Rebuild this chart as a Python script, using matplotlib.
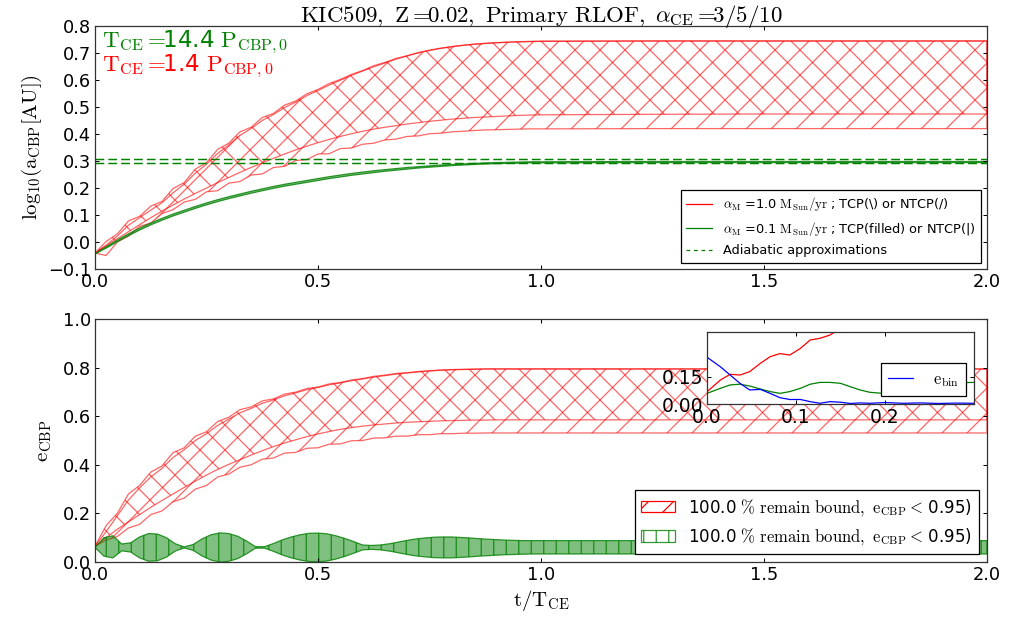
import matplotlib
matplotlib.use("Agg")
import matplotlib.pyplot as plt
from matplotlib.patches import Patch
from matplotlib.lines import Line2D

plt.rcParams['font.family'] = ['DejaVu Sans']
plt.rcParams['mathtext.fontset'] = 'cm'
plt.rcParams['hatch.linewidth'] = 0.6

# time grid for the a / e curves (t / T_CE)
t = [0.0, 0.025, 0.05, 0.075, 0.1, 0.125, 0.15, 0.175, 0.2, 0.225, 0.25, 0.275, 0.3,
     0.325, 0.35, 0.375, 0.4, 0.425, 0.45, 0.475, 0.5, 0.525, 0.55, 0.575, 0.6, 0.625,
     0.65, 0.675, 0.7, 0.725, 0.75, 0.775, 0.8, 0.825, 0.85, 0.875, 0.9, 0.925, 0.95,
     0.975, 1.0, 1.25, 1.5, 1.75, 2.0]

# log10(a_CBP) for alpha_M = 1.0 (red)
a_tcp_hi = [-0.041, 0.002, 0.03, 0.078, 0.095, 0.133, 0.15, 0.198, 0.22, 0.27, 0.294, 0.343,
            0.366, 0.408, 0.425, 0.461, 0.476, 0.507, 0.522, 0.549, 0.565, 0.587, 0.602, 0.621,
            0.635, 0.653, 0.665, 0.68, 0.69, 0.702, 0.711, 0.718, 0.724, 0.729, 0.733, 0.736,
            0.738, 0.74, 0.742, 0.743, 0.744, 0.745, 0.745, 0.745, 0.745]
a_ntcp_hi = [-0.041, -0.012, 0.022, 0.062, 0.09, 0.118, 0.145, 0.182, 0.214, 0.255, 0.288, 0.328,
             0.36, 0.395, 0.42, 0.45, 0.472, 0.498, 0.518, 0.542, 0.561, 0.581, 0.599, 0.617,
             0.633, 0.649, 0.663, 0.677, 0.689, 0.7, 0.709, 0.717, 0.723, 0.728, 0.732, 0.735,
             0.738, 0.74, 0.741, 0.742, 0.743, 0.744, 0.744, 0.744, 0.744]
a_tcp_lo = [-0.041, -0.015, 0.012, 0.038, 0.064, 0.09, 0.114, 0.137, 0.159, 0.18, 0.2, 0.22,
            0.239, 0.258, 0.276, 0.293, 0.31, 0.326, 0.341, 0.355, 0.368, 0.38, 0.391, 0.401,
            0.41, 0.418, 0.425, 0.431, 0.437, 0.442, 0.447, 0.451, 0.455, 0.458, 0.461, 0.463,
            0.465, 0.467, 0.469, 0.47, 0.471, 0.473, 0.474, 0.474, 0.474]
a_ntcp_lo = [-0.041, -0.05, 0.0, 0.022, 0.058, 0.07, 0.105, 0.12, 0.148, 0.158, 0.186, 0.19,
             0.218, 0.224, 0.248, 0.252, 0.276, 0.28, 0.302, 0.305, 0.326, 0.327, 0.346, 0.348,
             0.362, 0.366, 0.378, 0.381, 0.391, 0.393, 0.401, 0.403, 0.408, 0.41, 0.413, 0.415,
             0.416, 0.417, 0.418, 0.419, 0.419, 0.42, 0.42, 0.42, 0.42]

# log10(a_CBP) for alpha_M = 0.1 (green)
a_g_hi = [-0.041, -0.015, 0.01, 0.033, 0.054, 0.073, 0.09, 0.106, 0.12, 0.134, 0.147, 0.159,
          0.17, 0.18, 0.19, 0.199, 0.208, 0.216, 0.223, 0.23, 0.237, 0.244, 0.25, 0.256, 0.261,
          0.266, 0.27, 0.274, 0.278, 0.281, 0.284, 0.287, 0.289, 0.291, 0.293, 0.295, 0.296,
          0.297, 0.298, 0.299, 0.299, 0.3, 0.3, 0.3, 0.3]
a_g_lo = [-0.041, -0.02, 0.004, 0.026, 0.047, 0.066, 0.083, 0.099, 0.113, 0.127, 0.14, 0.152,
          0.163, 0.173, 0.183, 0.192, 0.201, 0.209, 0.216, 0.223, 0.23, 0.237, 0.243, 0.249,
          0.254, 0.259, 0.264, 0.268, 0.272, 0.276, 0.279, 0.282, 0.285, 0.287, 0.289, 0.291,
          0.292, 0.293, 0.294, 0.295, 0.295, 0.296, 0.296, 0.296, 0.296]
a_adiabatic = [0.306, 0.294]

# e_CBP for alpha_M = 1.0 (red)
e_tcp_hi = [0.065, 0.15, 0.2, 0.28, 0.315, 0.37, 0.395, 0.45, 0.47, 0.518, 0.536, 0.578, 0.596,
            0.627, 0.638, 0.663, 0.671, 0.691, 0.699, 0.714, 0.72, 0.733, 0.739, 0.749, 0.755,
            0.764, 0.769, 0.776, 0.779, 0.784, 0.787, 0.79, 0.792, 0.793, 0.794, 0.795, 0.795,
            0.795, 0.795, 0.795, 0.795, 0.795, 0.795, 0.795, 0.795]
e_ntcp_hi = [0.065, 0.125, 0.19, 0.255, 0.305, 0.35, 0.385, 0.43, 0.462, 0.5, 0.528, 0.562,
             0.588, 0.614, 0.632, 0.653, 0.667, 0.684, 0.696, 0.709, 0.718, 0.729, 0.737, 0.746,
             0.753, 0.761, 0.767, 0.773, 0.778, 0.782, 0.786, 0.789, 0.791, 0.792, 0.793, 0.794,
             0.794, 0.794, 0.794, 0.794, 0.794, 0.794, 0.794, 0.794, 0.794]
e_tcp_lo = [0.065, 0.1, 0.135, 0.165, 0.195, 0.225, 0.253, 0.28, 0.307, 0.333, 0.358, 0.381,
            0.402, 0.421, 0.44, 0.458, 0.475, 0.49, 0.503, 0.516, 0.527, 0.537, 0.546, 0.553,
            0.559, 0.564, 0.568, 0.572, 0.575, 0.577, 0.579, 0.581, 0.582, 0.583, 0.584, 0.584,
            0.585, 0.585, 0.585, 0.585, 0.585, 0.585, 0.585, 0.585, 0.585]
e_ntcp_lo = [0.065, 0.09, 0.105, 0.14, 0.155, 0.195, 0.21, 0.248, 0.263, 0.3, 0.315, 0.35,
             0.362, 0.39, 0.4, 0.423, 0.428, 0.448, 0.451, 0.468, 0.47, 0.485, 0.486, 0.499,
             0.5, 0.51, 0.511, 0.518, 0.518, 0.524, 0.524, 0.528, 0.528, 0.53, 0.53, 0.531,
             0.531, 0.531, 0.531, 0.531, 0.531, 0.531, 0.531, 0.531, 0.531]

# e_CBP for alpha_M = 0.1 (green), finer grid
t_g = [0.0, 0.02, 0.04, 0.06, 0.08, 0.1, 0.12, 0.14, 0.16, 0.18, 0.2, 0.22, 0.24, 0.26, 0.28,
       0.3, 0.32, 0.34, 0.36, 0.38, 0.4, 0.42, 0.44, 0.46, 0.48, 0.5, 0.52, 0.54, 0.56, 0.58,
       0.6, 0.62, 0.64, 0.66, 0.68, 0.7, 0.72, 0.74, 0.76, 0.78, 0.8, 0.82, 0.84, 0.86, 0.88,
       0.9, 0.92, 0.94, 0.96, 0.98, 1.0, 1.02, 1.04, 1.06, 1.08, 1.1, 1.3, 1.5, 1.75, 2.0]
e_g_hi = [0.06, 0.1, 0.108, 0.074, 0.079, 0.103, 0.117, 0.115, 0.1, 0.075, 0.062, 0.072, 0.095,
          0.112, 0.12, 0.117, 0.106, 0.086, 0.063, 0.063, 0.076, 0.091, 0.103, 0.112, 0.118,
          0.119, 0.116, 0.108, 0.097, 0.084, 0.07, 0.068, 0.07, 0.075, 0.082, 0.089, 0.095,
          0.099, 0.102, 0.103, 0.103, 0.101, 0.099, 0.096, 0.094, 0.092, 0.09, 0.089, 0.088,
          0.088, 0.088, 0.088, 0.088, 0.088, 0.088, 0.088, 0.088, 0.088, 0.088, 0.088]
e_g_lo = [0.06, 0.024, 0.017, 0.046, 0.041, 0.017, 0.003, 0.005, 0.02, 0.045, 0.058, 0.048,
          0.025, 0.008, 0.0, 0.003, 0.014, 0.034, 0.057, 0.057, 0.044, 0.029, 0.017, 0.008,
          0.002, 0.001, 0.004, 0.012, 0.023, 0.036, 0.05, 0.052, 0.05, 0.045, 0.038, 0.031,
          0.025, 0.021, 0.018, 0.017, 0.017, 0.019, 0.021, 0.024, 0.026, 0.028, 0.03, 0.031,
          0.032, 0.033, 0.033, 0.033, 0.033, 0.033, 0.033, 0.033, 0.033, 0.033, 0.033, 0.033]

# inset: early evolution
t_in = [0.0, 0.015, 0.026, 0.037, 0.048, 0.06, 0.071, 0.082, 0.093, 0.105, 0.116, 0.127,
        0.138, 0.15, 0.161, 0.172, 0.183, 0.2, 0.22, 0.24, 0.26, 0.28, 0.3]
e_bin_in = [0.26, 0.207, 0.161, 0.115, 0.078, 0.081, 0.059, 0.035, 0.025, 0.025, 0.013, 0.004,
            0.013, 0.01, 0.003, 0.006, 0.004, 0.008, 0.004, 0.006, 0.003, 0.005, 0.004]
t_in_red = [0.0, 0.015, 0.026, 0.037, 0.048, 0.06, 0.071, 0.082, 0.093, 0.105, 0.116, 0.127,
            0.138, 0.15]
e_red_in = [0.068, 0.133, 0.165, 0.161, 0.18, 0.226, 0.263, 0.28, 0.272, 0.309, 0.356, 0.365,
            0.383, 0.42]
e_green_in = [0.059, 0.087, 0.106, 0.11, 0.1, 0.083, 0.069, 0.059, 0.069, 0.087, 0.11, 0.12,
              0.12, 0.115, 0.096, 0.078, 0.065, 0.058, 0.07, 0.09, 0.108, 0.118, 0.12]

RED = (1, 0, 0, 0.6)
GREEN_FACE = (0, 0.5, 0, 0.5)
GREEN_EDGE = (0, 0.5, 0, 0.8)


def style_axes(ax, size=8.5):
    ax.tick_params(direction='in', top=True, right=True, length=2, width=0.5,
                   labelsize=size, pad=2)
    for s in ax.spines.values():
        s.set_linewidth(0.6)
        s.set_color('#333333')


fig = plt.figure(figsize=(1010 / 150, 621 / 150), dpi=150)
ax1 = fig.add_axes([95 / 1010, 1 - 269 / 621, 892 / 1010, 243 / 621])
ax2 = fig.add_axes([95 / 1010, 1 - 562 / 621, 892 / 1010, 243 / 621])

# top panel: semi-major axis
ax1.fill_between(t, a_tcp_lo, a_tcp_hi, facecolor='none', edgecolor=RED, hatch='\\\\', lw=0.6)
ax1.fill_between(t, a_ntcp_lo, a_ntcp_hi, facecolor='none', edgecolor=RED, hatch='//', lw=0.6)
ax1.fill_between(t, a_g_lo, a_g_hi, facecolor=GREEN_FACE, edgecolor=GREEN_EDGE, lw=0.6)
for yv in a_adiabatic:
    ax1.axhline(yv, color='g', ls='--', lw=0.7, dashes=(6, 2.8))
ax1.set_xlim(0, 2)
ax1.set_ylim(-0.1, 0.8)
ax1.set_xticks([0, 0.5, 1.0, 1.5, 2.0])
ax1.set_yticks([-0.1, 0.0, 0.1, 0.2, 0.3, 0.4, 0.5, 0.6, 0.7, 0.8])
ax1.set_ylabel(r'$\mathrm{log}_{10}(\mathrm{a_{CBP}[AU]})$', fontsize=10, labelpad=2)
ax1.set_title(r'$\rm KIC509,\ Z=\!\!0.02,\ Primary\ RLOF,\ \alpha_{CE}=\!\!3/5/10$',
              fontsize=11, pad=2)
ax1.text(0.008, 0.99, r'$\rm T_{CE}=\!\!$14.4 $\rm P_{CBP,0}$', color='g', fontsize=11,
         transform=ax1.transAxes, va='top', ha='left')
ax1.text(0.008, 0.89, r'$\rm T_{CE}=\!\!$1.4 $\rm P_{CBP,0}$', color='r', fontsize=11,
         transform=ax1.transAxes, va='top', ha='left')
handles1 = [Line2D([], [], color='r', lw=0.6),
            Line2D([], [], color='g', lw=0.6),
            Line2D([], [], color='g', lw=0.6, ls='--', dashes=(3, 3))]
labels1 = [r'$\alpha_{\rm M}$ =1.0 $\rm M_{Sun}/yr$ ; TCP(\) or NTCP(/)',
           r'$\alpha_{\rm M}$ =0.1 $\rm M_{Sun}/yr$ ; TCP(filled) or NTCP(|)',
           'Adiabatic approximations']
leg1 = ax1.legend(handles1, labels1, loc='lower right', fontsize=6.2, fancybox=False,
                  edgecolor='k', framealpha=1)
leg1.get_frame().set_linewidth(0.6)
style_axes(ax1)

# bottom panel: eccentricity
ax2.fill_between(t, e_tcp_lo, e_tcp_hi, facecolor='none', edgecolor=RED, hatch='\\\\', lw=0.6)
ax2.fill_between(t, e_ntcp_lo, e_ntcp_hi, facecolor='none', edgecolor=RED, hatch='//', lw=0.6)
ax2.fill_between(t_g, e_g_lo, e_g_hi, facecolor=GREEN_FACE, edgecolor=GREEN_EDGE, hatch='||',
                 lw=0.6)
ax2.set_xlim(0, 2)
ax2.set_ylim(0, 1)
ax2.set_xticks([0, 0.5, 1.0, 1.5, 2.0])
ax2.set_ylabel(r'$\rm e_{CBP}$', fontsize=10, labelpad=4)
ax2.set_xlabel(r'$\rm t/T_{CE}$', fontsize=10, labelpad=2)
handles2 = [Patch(facecolor='white', edgecolor='r', hatch='//', lw=0.6),
            Patch(facecolor='white', edgecolor=GREEN_EDGE, hatch='||', lw=0.6)]
labels2 = [r'100.0 $\rm \%\ remain\ bound,\ e_{CBP}<\!$ 0.95)'] * 2
leg2 = ax2.legend(handles2, labels2, loc='lower right', fontsize=8, fancybox=False,
                  edgecolor='k', framealpha=1)
leg2.get_frame().set_linewidth(0.6)
style_axes(ax2)

# inset with the early evolution and binary eccentricity
axin = fig.add_axes([707 / 1010, 1 - 404 / 621, 267 / 1010, 72 / 621])
axin.plot(t_in_red, e_red_in, color='r', lw=0.6)
axin.plot(t_in, e_green_in, color='g', lw=0.6)
axin.plot(t_in, e_bin_in, color='b', lw=0.6, label=r'$\rm e_{bin}$')
axin.set_xlim(0, 0.3)
axin.set_ylim(0, 0.4)
axin.set_xticks([0, 0.1, 0.2])
axin.set_yticks([0, 0.15])
axin.set_yticklabels(['0.00', '0.15'])
leg3 = axin.legend(loc='lower right', fontsize=8, fancybox=False, edgecolor='k',
                   framealpha=1, handlelength=1.5, handletextpad=1.2)
leg3.get_frame().set_linewidth(0.6)
style_axes(axin, size=9)

fig.savefig('out.png', dpi=150)
